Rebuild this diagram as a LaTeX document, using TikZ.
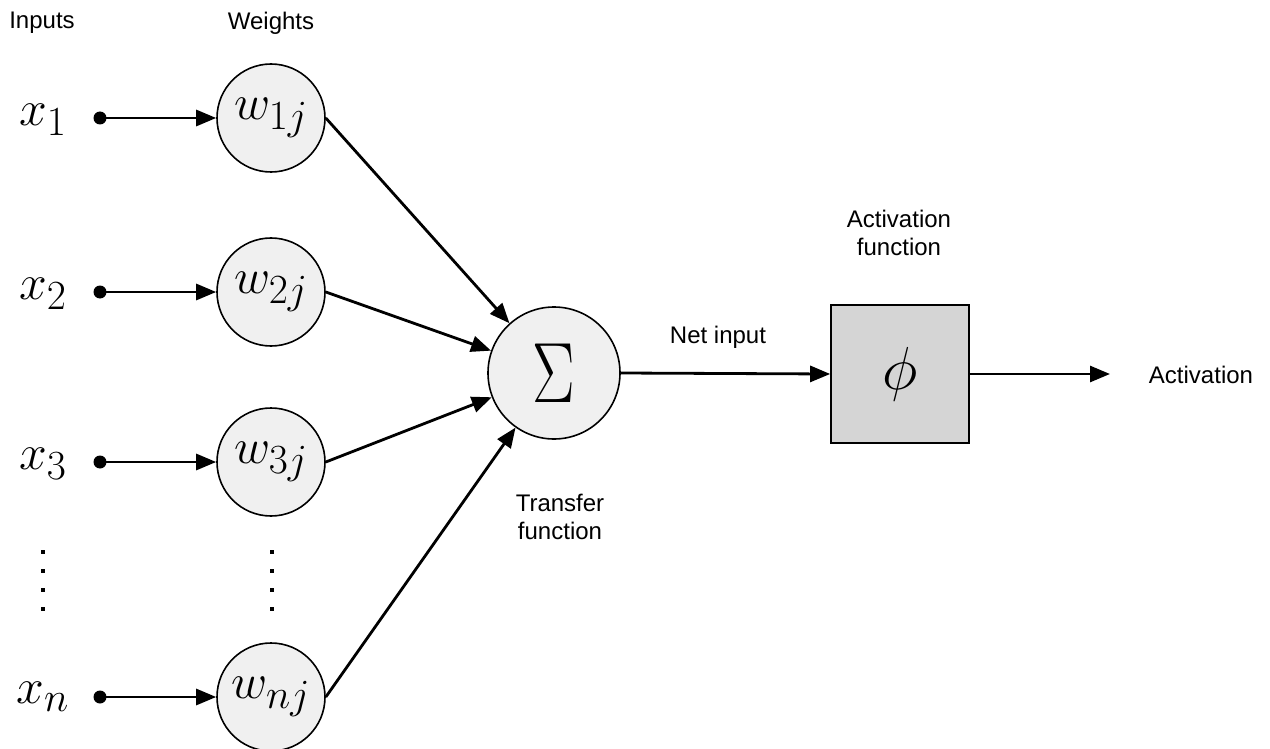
\documentclass[tikz,border=0pt]{standalone}
\usepackage{fontspec}
\setmainfont{Liberation Sans}
\usetikzlibrary{arrows.meta}
\definecolor{cfill}{RGB}{240,240,240}
\definecolor{bfill}{RGB}{213,213,213}
\begin{document}
\begin{tikzpicture}[x=0.5pt,y=-0.5pt,
  wt/.style={circle,draw,line width=0.8pt,fill=cfill,minimum size=54pt,inner sep=0pt,font=\fontsize{24.88}{28}\selectfont},
  sumnode/.style={circle,draw,line width=0.8pt,fill=cfill,minimum size=66pt,inner sep=0pt,font=\fontsize{24.88}{28}\selectfont},
  actbox/.style={rectangle,draw,line width=0.8pt,fill=bfill,minimum size=69pt,inner sep=0pt,font=\fontsize{24.88}{28}\selectfont},
  indot/.style={circle,fill,inner sep=0pt,minimum size=6.5pt},
  arr/.style={-{Triangle[length=10pt,width=8pt]},line width=1.4pt},
  lbl/.style={font=\fontsize{12}{14}\selectfont,align=center},
  mth/.style={font=\fontsize{24.88}{28}\selectfont}]
\useasboundingbox (0,0) rectangle (1270,749);

% headers
\node[lbl] (hin) at (42,23) {Inputs};
\node[lbl] (hwt) at (271,23) {Weights};

% inputs
\node[mth] (x1) at (43,120) {$x_1$};
\node[mth] (x2) at (43,294) {$x_2$};
\node[mth] (x3) at (43,464) {$x_3$};
\node[mth] (xn) at (43,697) {$x_n$};

\node[indot] (d1) at (100,118) {};
\node[indot] (d2) at (100,292) {};
\node[indot] (d3) at (100,462) {};
\node[indot] (dn) at (100,697) {};

% weights
\node[wt] (w1) at (271,118) {$w_{1j}$};
\node[wt] (w2) at (271,292) {$w_{2j}$};
\node[wt] (w3) at (271,462) {$w_{3j}$};
\node[wt] (wn) at (271,697) {$w_{nj}$};

\draw[arr] (d1.center) -- (w1);
\draw[arr] (d2.center) -- (w2);
\draw[arr] (d3.center) -- (w3);
\draw[arr] (dn.center) -- (wn);

% vertical dots
\foreach \yy in {552,571,590,609}{
  \fill (41,\yy-2) rectangle (45,\yy+2);
  \fill (270,\yy-2) rectangle (274,\yy+2);
}

% sum node
\node[sumnode] (sig) at (554,373) {\scalebox{1.28}[1.72]{$\Sigma$}};
\draw[arr] (w1.east) -- (sig);
\draw[arr] (w2.east) -- (sig);
\draw[arr] (w3.east) -- (sig);
\draw[arr] (wn.east) -- (sig);

\node[lbl] (tf) at (560,517) {Transfer\\function};

% activation
\node[actbox] (phi) at (900,374) {\scalebox{1.22}{$\phi$}};
\draw[arr] (sig.east) -- (phi.west);
\node[lbl] (ni) at (718,337) {Net input};
\node[lbl] (af) at (899,233) {Activation\\function};

\coordinate (out) at (1110,374);
\draw[arr] (phi.east) -- (out);
\node[lbl] (act) at (1201,375) {Activation};
\end{tikzpicture}
\end{document}
